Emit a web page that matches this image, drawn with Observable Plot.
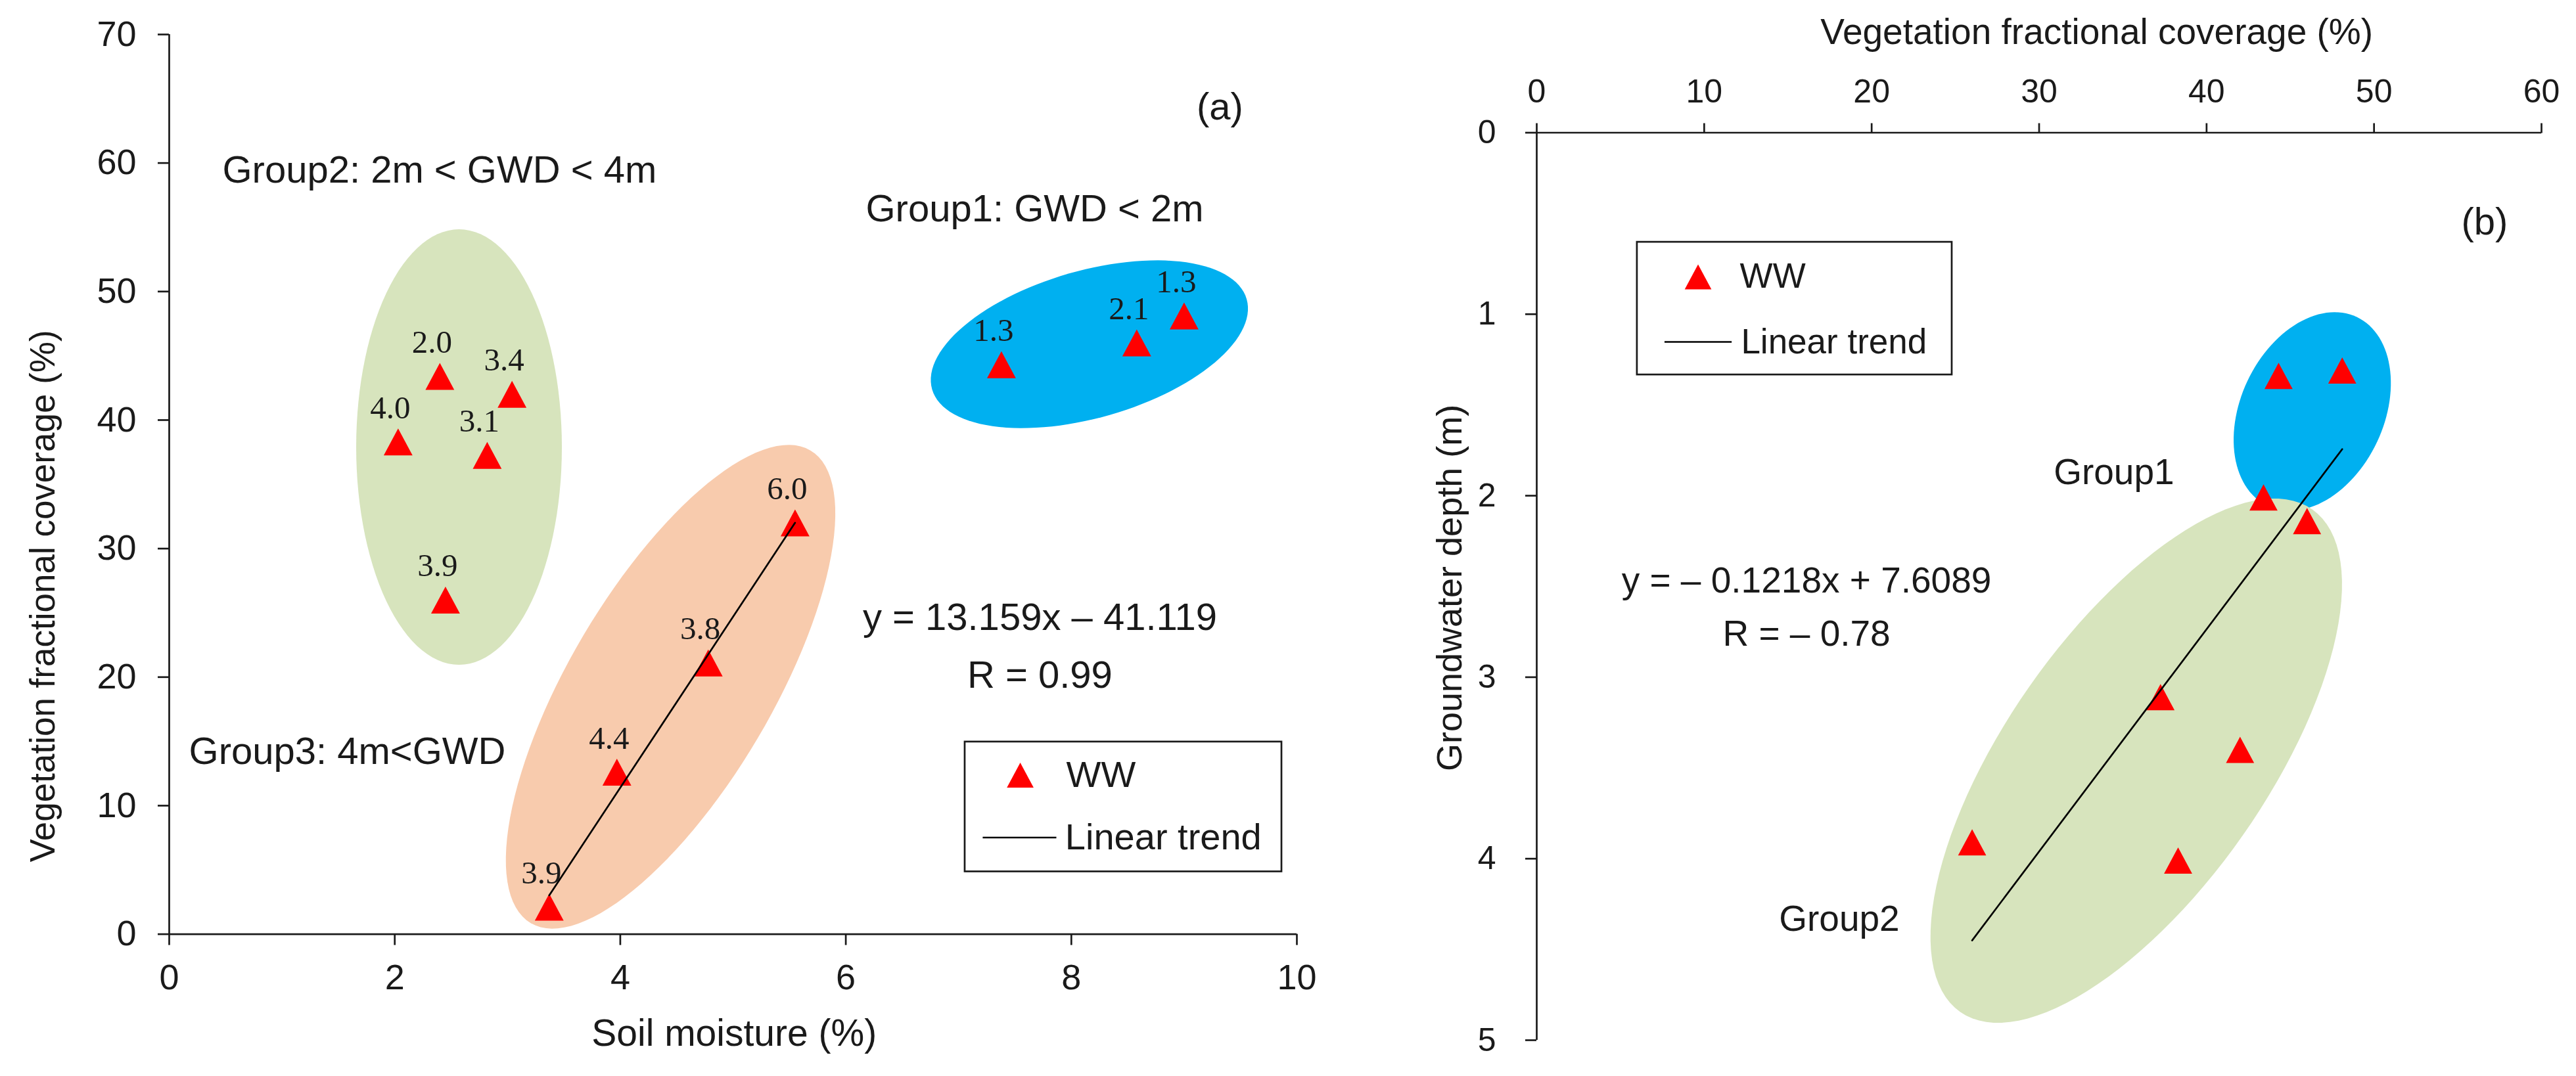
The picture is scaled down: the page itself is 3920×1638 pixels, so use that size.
<!DOCTYPE html>
<html>
<head>
<meta charset="utf-8">
<script src="https://cdn.jsdelivr.net/npm/d3@7"></script>
<script src="https://cdn.jsdelivr.net/npm/@observablehq/plot@0.6"></script>
<style>
  html, body { margin: 0; padding: 0; background: #fff; }
  #wrap { display: flex; width: 3920px; height: 1638px; background: #fff; }
  #wrap svg { display: block; flex: none; }
</style>
</head>
<body>
<div id="wrap"></div>
<script>
// ---------------- data ----------------
const siteGroup     = ["Group1","Group1","Group1","Group2","Group2","Group2","Group2","Group2","Group3","Group3","Group3","Group3"];
const soilMoisture  = [7.38, 8.58, 9.00, 2.40, 3.04, 2.03, 2.82, 2.45, 3.37, 3.97, 4.78, 5.55];   // %
const vegCoverage   = [44.3, 46.0, 48.1, 43.4, 42.0, 38.3, 37.25, 26.0, 2.1, 12.6, 21.1, 32.0];  // %
const groundwaterDepth = [1.34, 2.14, 1.31, 2.01, 3.40, 4.01, 3.11, 3.91, 3.9, 4.4, 3.8, 6.0];  // m

const xTicksA = [0, 2, 4, 6, 8, 10];
const yTicksA = [0, 10, 20, 30, 40, 50, 60, 70];
const xTicksB = [0, 10, 20, 30, 40, 50, 60];
const yTicksB = [0, 1, 2, 3, 4, 5];

const eqA = ["y = 13.159x \u2013 41.119", "R = 0.99"];
const eqB = ["y = \u2013 0.1218x + 7.6089", "R = \u2013 0.78"];

// ---------------- helpers ----------------
const points = soilMoisture.map((sm, i) => ({
  group: siteGroup[i], sm, vfc: vegCoverage[i], gwd: groundwaterDepth[i]
}));
const group3 = points.filter(d => d.group === "Group3");
const group12 = points.filter(d => d.group !== "Group3");
const fmt1 = d3.format(".1f");
const fmtInt = d3.format("d");

const SANS = "Liberation Sans, Arial, Helvetica, sans-serif";
const SERIF = "Liberation Serif, Times New Roman, serif";
const RED = "#ff0000", GREEN = "#d7e4bd", BLUE = "#00b0f0", ORANGE = "#f8cbad", INK = "#1a1a1a";

const triangle = {
  draw(ctx, size) {
    const r = Math.sqrt(size / Math.PI);
    ctx.moveTo(0, -r);
    ctx.lineTo(1.07 * r, r);
    ctx.lineTo(-1.07 * r, r);
    ctx.closePath();
  }
};

function ellipseSymbol(rx, ry, deg) {
  const t = deg * Math.PI / 180, c = Math.cos(t), s = Math.sin(t);
  return {
    draw(ctx) {
      const n = 120;
      for (let i = 0; i <= n; i++) {
        const a = 2 * Math.PI * i / n;
        const ex = rx * Math.cos(a), ey = ry * Math.sin(a);
        const px = ex * c - ey * s, py = ex * s + ey * c;
        if (i === 0) ctx.moveTo(px, py); else ctx.lineTo(px, py);
      }
      ctx.closePath();
    }
  };
}
function ellipse(cx, cy, rx, ry, deg, fill) {
  return Plot.dot([{cx, cy}], {x: "cx", y: "cy", r: 1, symbol: ellipseSymbol(rx, ry, deg), fill, stroke: "none"});
}
function note(str, x, y, opts = {}) {
  return Plot.text([str], {x, y, fill: INK, fontFamily: SANS, ...opts});
}

// ---------------- panel (a) ----------------
const A = Plot.plot({
  width: 2060, height: 1638,
  marginLeft: 257, marginRight: 87, marginTop: 52, marginBottom: 216.4,
  x: {domain: [0, 10]},
  y: {domain: [0, 70]},
  style: {fontFamily: SANS, fontSize: "54px", color: INK, background: "white", overflow: "visible"},
  marks: [
    ellipse(2.57, 37.9, 156.5, 331.5, 0, GREEN),
    ellipse(8.16, 45.9, 249, 112, -16, BLUE),
    ellipse(4.446, 19.25, 418, 154, -59.4, ORANGE),
    Plot.dot(points, {x: "sm", y: "vfc", r: 20.5, symbol: triangle, fill: RED, stroke: "none"}),
    Plot.linearRegressionY(group3, {x: "sm", y: "vfc", stroke: "#000", strokeWidth: 2.7, ci: 0}),
    Plot.text(points, {x: "sm", y: "vfc", text: d => fmt1(d.gwd), dx: -12, dy: -36,
      lineAnchor: "bottom", fontFamily: SERIF, fontSize: 49, fill: INK}),
    // annotations
    note("(a)", 9.318, 64.35, {lineAnchor: "middle", fontSize: 58}),
    note("Group2: 2m < GWD < 4m", 0.472, 58.47, {textAnchor: "start", lineAnchor: "bottom", fontSize: 58}),
    note("Group1: GWD < 2m", 6.177, 55.45, {textAnchor: "start", lineAnchor: "bottom", fontSize: 58}),
    note("Group3: 4m<GWD", 0.175, 13.22, {textAnchor: "start", lineAnchor: "bottom", fontSize: 58}),
    note(eqA[0], 7.721, 23.69, {lineAnchor: "bottom", fontSize: 58}),
    note(eqA[1], 7.721, 19.15, {lineAnchor: "bottom", fontSize: 58}),
    // legend
    Plot.rect([0], {x1: 7.057, x2: 9.866, y1: 4.86, y2: 14.96, fill: "white", stroke: INK, strokeWidth: 2.7}),
    Plot.dot([0], {x: 7.547, y: 12.38, r: 19, symbol: triangle, fill: RED, stroke: "none"}),
    note("WW", 7.955, 12.38, {textAnchor: "start", lineAnchor: "middle", fontSize: 56}),
    Plot.link([0], {x1: 7.214, x2: 7.867, y1: 7.515, y2: 7.515, stroke: "#000", strokeWidth: 2.5}),
    note("Linear trend", 7.945, 7.515, {textAnchor: "start", lineAnchor: "middle", fontSize: 56}),
    // axis titles
    note("Soil moisture (%)", 5.01, -8.66, {lineAnchor: "bottom", fontSize: 57}),
    note("Vegetation fractional coverage (%)", -1.014, 26.3, {rotate: -90, lineAnchor: "bottom", fontSize: 53}),
    // axes
    Plot.ruleX([0], {stroke: INK, strokeWidth: 2.7}),
    Plot.ruleY([0], {stroke: INK, strokeWidth: 2.7}),
    Plot.axisX({ticks: xTicksA, tickFormat: fmtInt, tickSize: 17, tickPadding: 29, stroke: INK, strokeWidth: 2.7, fontSize: 54, label: null}),
    Plot.axisY({ticks: yTicksA, tickFormat: fmtInt, tickSize: 17, tickPadding: 33, stroke: INK, strokeWidth: 2.7, fontSize: 54, label: null})
  ]
});

// ---------------- panel (b) ----------------
const B = Plot.plot({
  width: 1860, height: 1638,
  marginLeft: 278, marginRight: 53, marginTop: 201.5, marginBottom: 55,
  x: {domain: [0, 60]},
  y: {domain: [0, 5], reverse: true},
  style: {fontFamily: SANS, fontSize: "50px", color: INK, background: "white", overflow: "visible"},
  marks: [
    ellipse(46.31, 1.536, 159, 109, -64.8, BLUE),
    ellipse(35.8, 3.46, 467, 198, -55, GREEN),
    Plot.dot(group12, {x: "vfc", y: "gwd", r: 20, symbol: triangle, fill: RED, stroke: "none"}),
    Plot.linearRegressionY(group12, {x: "vfc", y: "gwd", stroke: "#000", strokeWidth: 2.7, ci: 0}),
    // annotations
    note("(b)", 56.6, 0.494, {lineAnchor: "middle", fontSize: 58}),
    note("Group1", 30.87, 1.938, {textAnchor: "start", lineAnchor: "bottom", fontSize: 55}),
    note("Group2", 14.47, 4.399, {textAnchor: "start", lineAnchor: "bottom", fontSize: 55}),
    note(eqB[0], 16.11, 2.533, {lineAnchor: "bottom", fontSize: 55}),
    note(eqB[1], 16.11, 2.825, {lineAnchor: "bottom", fontSize: 55}),
    // legend
    Plot.rect([0], {x1: 6.0, x2: 24.8, y1: 0.603, y2: 1.334, fill: "white", stroke: INK, strokeWidth: 2.7}),
    Plot.dot([0], {x: 9.635, y: 0.794, r: 19, symbol: triangle, fill: RED, stroke: "none"}),
    note("WW", 12.13, 0.794, {textAnchor: "start", lineAnchor: "middle", fontSize: 53}),
    Plot.link([0], {x1: 7.63, x2: 11.64, y1: 1.153, y2: 1.153, stroke: "#000", strokeWidth: 2.5}),
    note("Linear trend", 12.2, 1.153, {textAnchor: "start", lineAnchor: "middle", fontSize: 53}),
    // axis titles
    note("Vegetation fractional coverage (%)", 33.44, -0.49, {lineAnchor: "bottom", fontSize: 55}),
    note("Groundwater depth (m)", -4.51, 2.508, {rotate: -90, lineAnchor: "bottom", fontSize: 54}),
    // axes
    Plot.ruleX([0], {stroke: INK, strokeWidth: 2.7}),
    Plot.ruleY([0], {stroke: INK, strokeWidth: 2.7}),
    Plot.axisX({anchor: "top", ticks: xTicksB, tickFormat: fmtInt, tickSize: 15, tickPadding: 31, stroke: INK, strokeWidth: 2.7, fontSize: 50, label: null}),
    Plot.axisY({ticks: yTicksB, tickFormat: fmtInt, tickSize: 17, tickPadding: 45, stroke: INK, strokeWidth: 2.7, fontSize: 50, label: null})
  ]
});

document.getElementById("wrap").append(A, B);
</script>
</body>
</html>
